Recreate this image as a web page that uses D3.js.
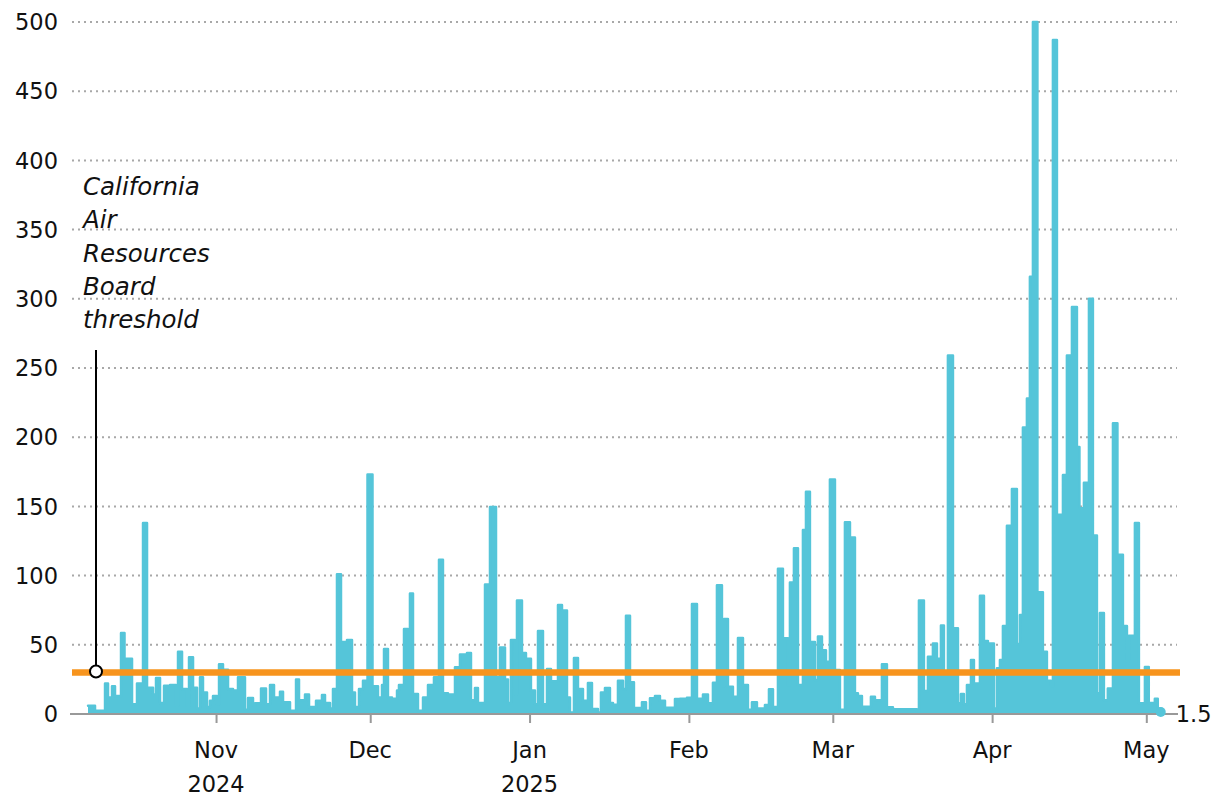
<!DOCTYPE html>
<html lang="en">
<head>
  <meta charset="UTF-8">
  <title>PM readings</title>
  <style>
    body {
      margin: 0;
      background: white;
    }
    text {
      font-family: "DejaVu Sans", sans-serif;
      fill: #111;
    }
    .tick-label {
      font-size: 22.5px;
    }
    .note {
      font-size: 24.5px;
      font-style: italic;
    }
  </style>
</head>
<body>
  <svg id="chart" width="1220" height="810"></svg>

  <script src="https://d3js.org/d3.v7.min.js"></script>
  <script>
    // readings: [days since 2024-10-01, value], each holds until the next reading
    var octNovReadings = [
      [6.09, 6], [7.45, 2.4], [9.40, 22], [9.98, 12], [10.76, 20], [11.34, 13], [12.51, 58.5], [13.19, 40],
      [14.65, 7], [15.62, 22], [16.79, 138], [17.57, 19], [18.74, 14], [19.32, 26], [20.10, 8], [20.88, 20.5],
      [22.04, 21], [23.21, 6], [23.60, 45], [24.38, 18], [25.35, 6], [25.74, 41], [26.52, 19], [27.30, 4],
      [27.88, 26.5], [28.46, 15.6], [29.24, 5], [29.82, 9.6], [30.41, 13], [31.19, 7], [31.58, 36], [32.35, 32],
      [33.33, 18], [34.30, 17], [35.27, 26.5], [36.63, 3], [37.22, 11.6], [38.19, 6], [38.58, 7.7], [39.75, 18.5],
      [40.72, 7], [41.50, 21], [42.28, 12], [43.44, 16], [44.03, 8.4], [45.39, 2.4], [46.56, 25], [47.14, 10],
      [48.31, 14], [49.09, 5], [50.45, 9.6], [51.61, 13.7], [52.20, 8], [53.17, 4], [53.75, 18], [54.53, 101],
      [55.31, 52], [56.48, 53.5], [57.45, 15.6], [58.03, 5], [58.81, 18], [59.59, 24], [60.47, 173], [61.44, 20]
    ];

    var decJanReadings = [
      [62.51, 12], [63.29, 21], [63.68, 47], [64.45, 12], [65.23, 11], [66.21, 17], [66.59, 21], [67.57, 61.4],
      [68.35, 24], [68.73, 87], [69.32, 14.5], [70.29, 2.4], [71.27, 12], [72.24, 21], [73.40, 26.5], [74.38, 111.5],
      [75.15, 15], [76.13, 14], [77.49, 33.7], [78.46, 43], [79.82, 44], [80.60, 10], [81.38, 18.8], [81.96, 8],
      [83.33, 93.5], [84.30, 149.5], [85.47, 26.5], [86.24, 48], [87.22, 25], [87.80, 8], [88.38, 53.5], [89.16, 14],
      [89.55, 82], [90.52, 44], [91.30, 40], [92.27, 17], [93.05, 7], [93.64, 60], [94.61, 7], [95.39, 32.5],
      [96.17, 23.6], [97.53, 78.8], [98.31, 74.7], [99.28, 12], [99.86, 1], [100.64, 40.5], [101.42, 18], [102.39, 9.6],
      [103.36, 22.4], [104.14, 3.6], [105.31, 1], [105.89, 15.6], [106.67, 18.8], [107.64, 8], [108.23, 6.7], [109.20, 24],
      [110.18, 18], [110.76, 71], [111.54, 23], [112.31, 4.3], [113.87, 8.4], [114.65, 2.4]
    ];

    var febMarReadings = [
      [115.43, 11.3], [116.40, 13], [117.37, 9.6], [118.35, 4.6], [120.29, 10.8], [121.26, 11], [122.62, 11.8], [123.60, 79.5],
      [124.57, 11], [125.74, 14], [126.71, 7.7], [127.68, 22.6], [128.46, 93], [129.43, 20], [129.82, 68.6], [130.60, 19.7],
      [131.57, 12.5], [132.55, 55], [133.52, 21], [134.49, 3], [135.27, 8.4], [136.24, 4], [137.80, 6.5], [138.58, 17.8],
      [139.36, 5], [140.33, 105], [141.30, 54.7], [142.28, 21], [142.66, 95], [143.44, 119.7], [144.22, 21], [145.19, 133],
      [145.78, 160.6], [146.55, 52], [147.53, 24.6], [148.11, 56], [148.89, 46], [149.67, 37.8], [150.44, 169.5], [151.42, 31.8],
      [152.39, 3], [153.36, 138.5], [154.34, 127.6], [155.31, 15], [155.89, 13], [156.67, 5.3], [158.42, 12.5], [159.20, 10],
      [160.56, 36], [161.53, 4.8], [162.70, 3.4], [167.37, 2], [167.76, 82], [168.73, 16.6]
    ];

    var aprMayReadings = [
      [169.51, 41.4], [170.48, 51], [171.26, 40], [172.04, 64], [172.62, 30], [173.40, 259], [174.38, 62], [175.35, 7.7],
      [175.93, 14.5], [176.51, 7], [177.10, 21], [177.88, 39], [178.46, 22], [179.63, 85.5], [180.41, 52.7], [181.18, 51],
      [182.35, 4], [182.94, 33], [183.52, 39], [184.10, 63.6], [184.88, 136], [185.85, 162.6], [186.82, 50.6], [187.41, 71.5],
      [187.99, 207], [188.77, 228], [189.35, 316], [189.94, 500], [190.81, 88], [191.88, 45], [192.66, 24], [193.44, 20],
      [193.83, 487], [194.61, 144], [195.78, 172.7], [196.55, 259], [197.53, 294], [198.50, 193], [198.99, 148.6], [199.86, 167],
      [200.84, 300], [201.61, 129], [202.39, 15], [202.97, 73], [203.75, 10], [204.51, 18.5], [205.51, 210], [206.38, 115],
      [207.45, 63.6], [208.23, 38], [208.62, 56.6], [209.78, 138], [210.56, 7.7], [211.73, 34], [212.48, 8], [213.66, 11],
      [214.23, 4], [214.81, 1.5], [215.20, 1.5]
    ];

    var yTicks = [0, 50, 100, 150, 200, 250, 300, 350, 400, 450, 500];
    var monthTicks = ["2024-11-01", "2024-12-01", "2025-01-01", "2025-02-01", "2025-03-01", "2025-04-01", "2025-05-01"];
    var monthLabels = [["Nov", "2024"], ["Dec"], ["Jan", "2025"], ["Feb"], ["Mar"], ["Apr"], ["May"]];
    var threshold = 30;
    var noteLines = ["California", "Air", "Resources", "Board", "threshold"];

    var origin = Date.UTC(2024, 9, 1);
    function toDate(day) { return new Date(origin + day * 864e5); }

    var readings = octNovReadings.concat(decJanReadings, febMarReadings, aprMayReadings);

    var chart = d3.select("#chart");

    var x = d3.scaleUtc()
      .domain([new Date("2024-10-03T14:00Z"), new Date("2025-05-07T04:00Z")])
      .range([70, 1178]);

    var y = d3.scaleLinear()
      .domain([0, 500])
      .range([714, 22]);

    // dotted grid
    chart.append("g")
      .selectAll("line")
      .data(yTicks.filter(function(d) { return d > 0; }))
      .enter().append("line")
      .attr("x1", 72)
      .attr("x2", 1177)
      .attr("y1", function(d) { return y(d); })
      .attr("y2", function(d) { return y(d); })
      .attr("stroke", "#a8a8a8")
      .attr("stroke-width", 2)
      .attr("stroke-dasharray", "2 4");

    chart.append("g")
      .selectAll("text")
      .data(yTicks)
      .enter().append("text")
      .attr("class", "tick-label")
      .attr("x", 58)
      .attr("y", function(d) { return y(d); })
      .attr("dy", "0.36em")
      .attr("text-anchor", "end")
      .text(function(d) { return d; });

    // readings
    var area = d3.area()
      .curve(d3.curveStepAfter)
      .x(function(d) { return x(toDate(d[0])); })
      .y0(y(0))
      .y1(function(d) { return y(d[1]); });

    var line = d3.line()
      .curve(d3.curveStepAfter)
      .x(function(d) { return x(toDate(d[0])); })
      .y(function(d) { return y(d[1]); });

    chart.append("path")
      .datum(readings)
      .attr("d", area)
      .attr("fill", "#55c5d9");

    chart.append("path")
      .datum(readings)
      .attr("d", line)
      .attr("fill", "none")
      .attr("stroke", "#55c5d9")
      .attr("stroke-width", 2.5)
      .attr("stroke-linejoin", "round")
      .attr("stroke-linecap", "round");

    // x axis
    var xAxis = chart.append("g")
      .attr("transform", "translate(0," + y(0) + ")")
      .call(d3.axisBottom(x)
        .tickValues(monthTicks.map(function(d) { return new Date(d + "T00:00Z"); }))
        .tickSize(9)
        .tickFormat(""));
    xAxis.select(".domain").remove();
    xAxis.selectAll(".tick line").attr("stroke", "#999").attr("stroke-width", 2);

    chart.append("line")
      .attr("x1", x.range()[0])
      .attr("x2", x.range()[1])
      .attr("y1", y(0))
      .attr("y2", y(0))
      .attr("stroke", "#999")
      .attr("stroke-width", 2);

    var monthText = chart.append("g")
      .selectAll("text")
      .data(monthTicks)
      .enter().append("text")
      .attr("class", "tick-label")
      .attr("text-anchor", "middle")
      .attr("x", function(d) { return x(new Date(d + "T00:00Z")); })
      .attr("y", 758);
    monthText.each(function(d, i) {
      var t = d3.select(this);
      monthLabels[i].forEach(function(s, k) {
        t.append("tspan")
          .attr("x", t.attr("x"))
          .attr("dy", k === 0 ? 0 : 34)
          .text(s);
      });
    });

    // threshold
    chart.append("line")
      .attr("x1", 72)
      .attr("x2", 1180)
      .attr("y1", y(threshold))
      .attr("y2", y(threshold))
      .attr("stroke", "#f7941d")
      .attr("stroke-width", 6.5);

    // end dot and label
    var last = readings[readings.length - 1];
    chart.append("circle")
      .attr("cx", x(toDate(last[0])) - 2)
      .attr("cy", y(last[1]))
      .attr("r", 5)
      .attr("fill", "#55c5d9");

    chart.append("text")
      .attr("class", "tick-label")
      .attr("x", x(toDate(last[0])) + 13)
      .attr("y", y(last[1]))
      .attr("dy", "0.45em")
      .text(last[1]);

    // annotation
    chart.append("line")
      .attr("x1", 96)
      .attr("x2", 96)
      .attr("y1", 350)
      .attr("y2", y(threshold) - 6)
      .attr("stroke", "#000")
      .attr("stroke-width", 2);

    chart.append("circle")
      .attr("cx", 96)
      .attr("cy", y(threshold) - 1)
      .attr("r", 6)
      .attr("fill", "white")
      .attr("stroke", "#000")
      .attr("stroke-width", 2);

    chart.append("g")
      .selectAll("text")
      .data(noteLines)
      .enter().append("text")
      .attr("class", "note")
      .attr("x", 83)
      .attr("y", function(d, i) { return 195 + i * 33.3; })
      .text(function(d) { return d; });
  </script>
</body>
</html>
